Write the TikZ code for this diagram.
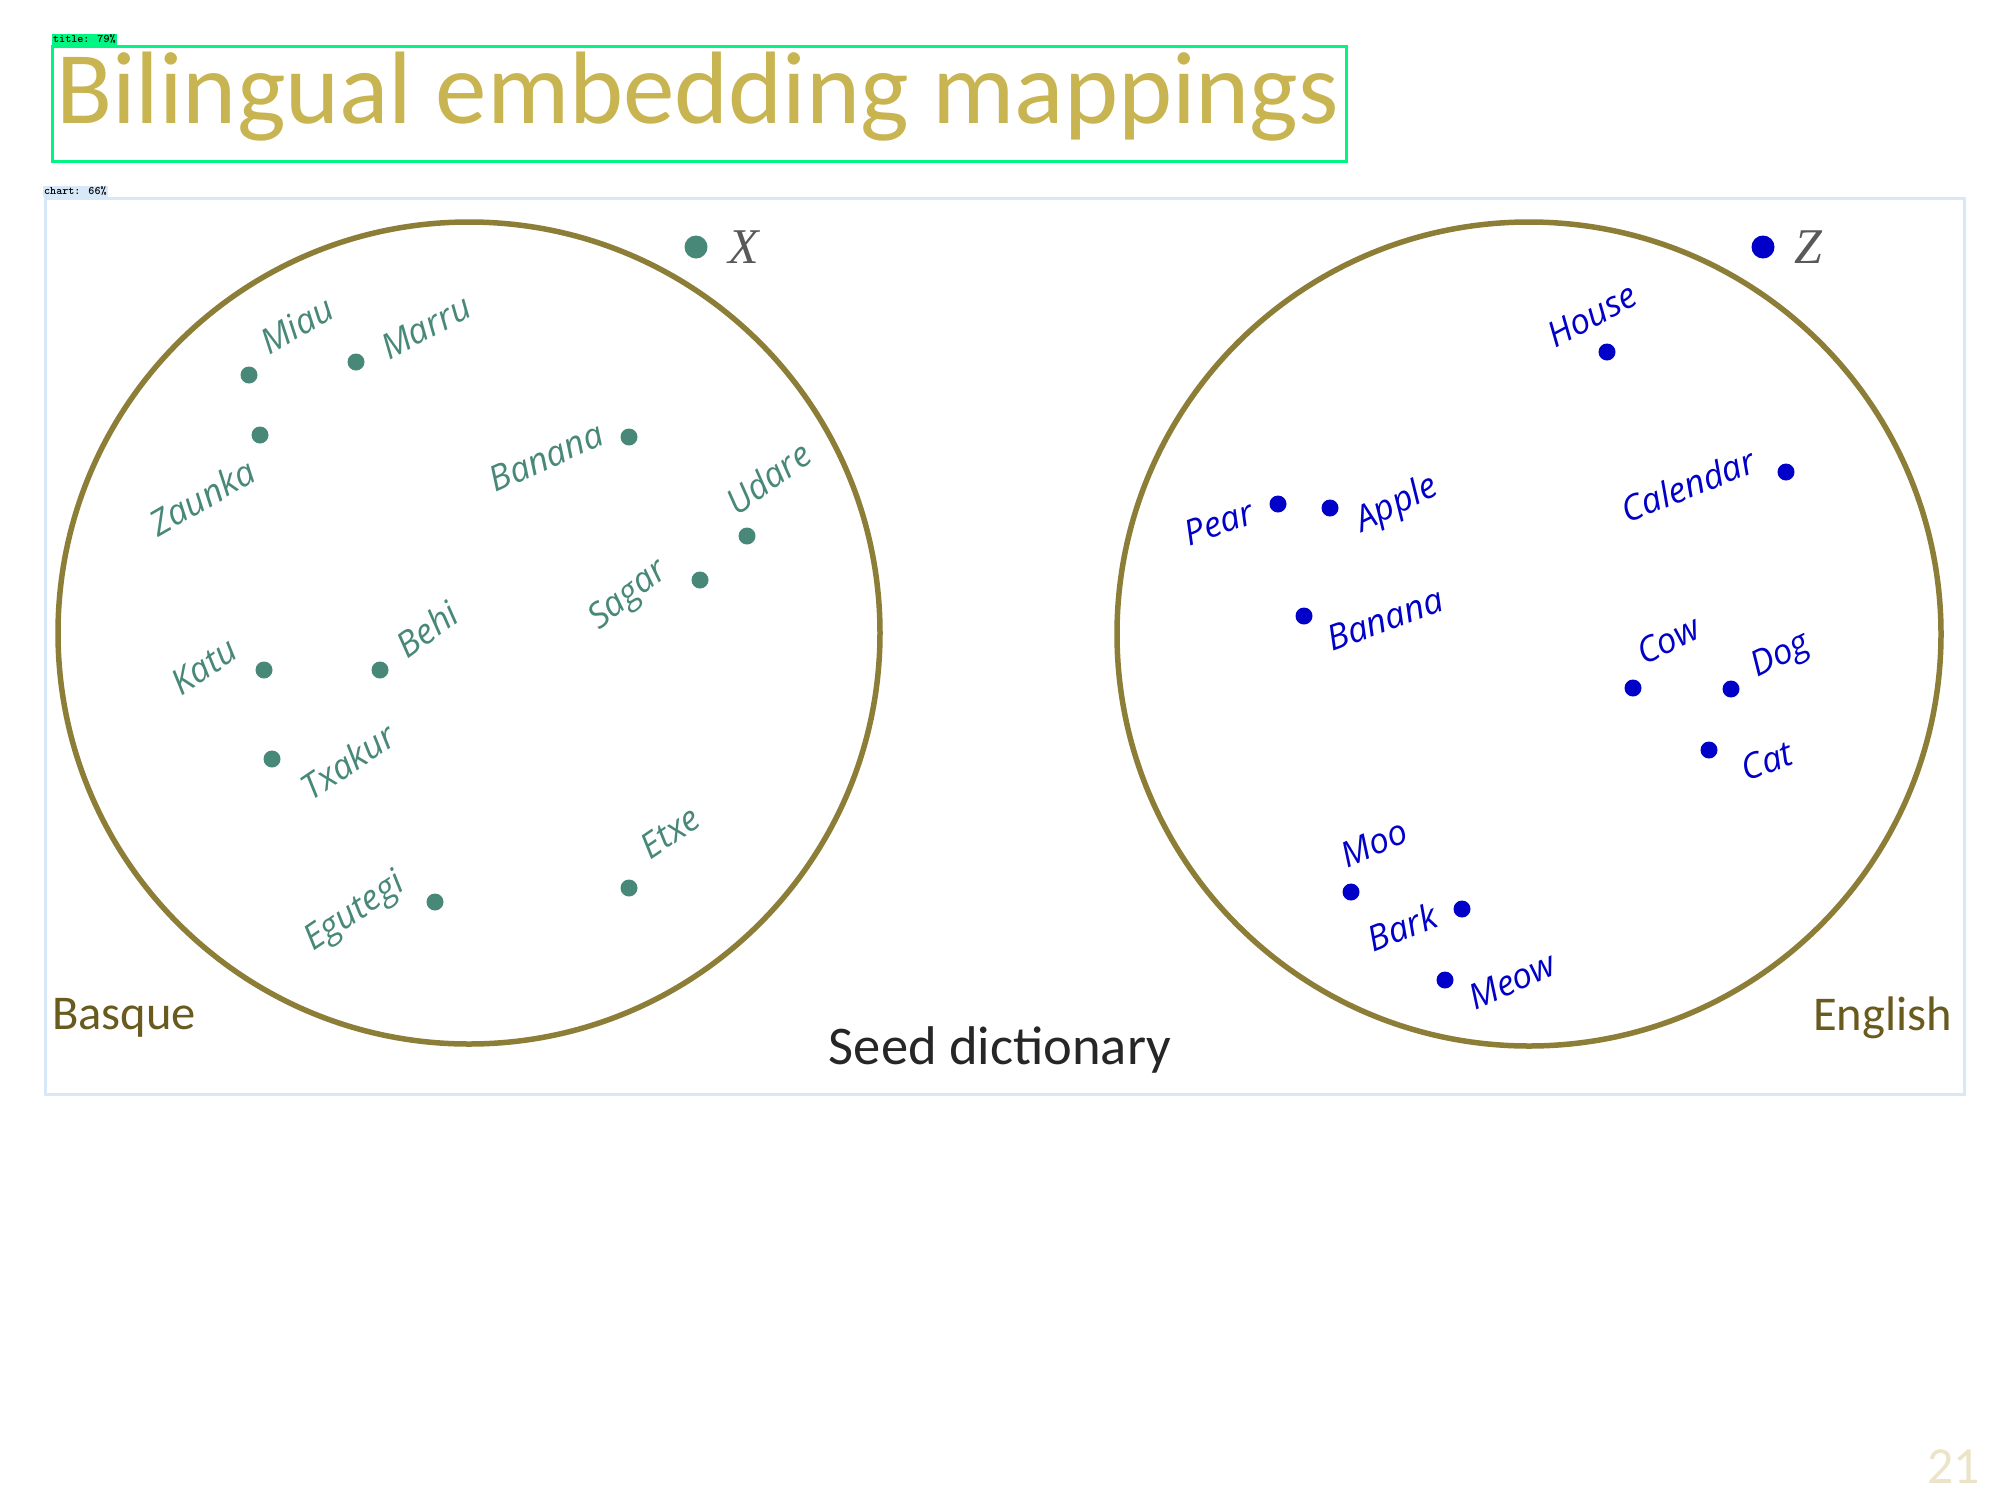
\documentclass[tikz,border=0pt]{standalone}
\usepackage{fontspec}
\setmainfont{Carlito}
\newfontfamily\wordfont{Open Sans}
\newfontfamily\varfont{Liberation Serif}
\usetikzlibrary{positioning}

\definecolor{titleolive}{RGB}{200,180,80}
\definecolor{ringolive}{RGB}{140,125,55}
\definecolor{langolive}{RGB}{105,90,30}
\definecolor{basqueteal}{RGB}{72,136,120}
\definecolor{englishblue}{RGB}{0,0,200}
\definecolor{detgreen}{RGB}{0,245,130}
\definecolor{detblue}{RGB}{215,232,248}
\definecolor{pagebeige}{RGB}{235,228,200}

\begin{document}
\begin{tikzpicture}[
  x=1pt, y=-1pt,
  ring/.style={draw=ringolive, line width=5.5pt},
  dotx/.style={circle, fill=basqueteal, inner sep=0pt, minimum size=17pt},
  dotz/.style={circle, fill=englishblue, inner sep=0pt, minimum size=17pt},
  bigdot/.style={minimum size=23pt},
  wordx/.style={font=\wordfont\itshape\fontsize{35}{38}\selectfont, text=basqueteal, inner sep=0pt},
  wordz/.style={font=\wordfont\itshape\fontsize{35}{38}\selectfont, text=englishblue, inner sep=0pt},
  var/.style={font=\varfont\itshape\fontsize{50}{52}\selectfont, text=black!65, inner sep=0pt},
  lang/.style={font=\fontsize{48.5}{50}\selectfont, text=langolive, inner sep=0pt},
  tag/.style={font=\ttfamily\bfseries\fontsize{11.5}{11.5}\selectfont, inner sep=1pt, anchor=south west}
]
\useasboundingbox[fill=white] (0,0) rectangle (2000,1500);

\draw[detgreen, line width=3pt] (52,46) rectangle (1346,161);
\node[tag, fill=detgreen] (titletag) at (52,45) {title: 79\%};
\node[font=\fontsize{103}{105}\selectfont, text=titleolive, anchor=west, inner sep=0pt] (title) at (56,97) {Bilingual embedding mappings};

\draw[detblue, line width=3pt] (45,198) rectangle (1964,1094);
\node[tag, fill=detblue] (charttag) at (43,197) {chart: 66\%};

\draw[ring] (469,633) circle (411);
\draw[ring] (1529,634) circle (412);

\node[dotx, bigdot] (xdot) at (696,247) {};
\node[var, right=21pt of xdot] (xvar) {X};

\node[dotx] (miau) at (249,375) {};
\node[wordx, rotate=30] (miaul) at (297,325) {Miau};
\node[dotx] (marru) at (356,362) {};
\node[wordx, rotate=28] (marrul) at (426,327) {Marru};
\node[dotx] (zaunka) at (260,435) {};
\node[wordx, rotate=30] (zaunkal) at (202,497) {Zaunka};
\node[dotx] (banx) at (629,437) {};
\node[wordx, rotate=24] (banxl) at (546,457) {Banana};
\node[dotx] (udare) at (747,536) {};
\node[wordx, rotate=36] (udarel) at (768,478) {Udare};
\node[dotx] (sagar) at (700,580) {};
\node[wordx, rotate=38] (sagarl) at (629,596) {Sagar};
\node[dotx] (katu) at (264,670) {};
\node[wordx, rotate=34] (katul) at (204,666) {Katu};
\node[dotx] (behi) at (380,670) {};
\node[wordx, rotate=36] (behil) at (427,629) {Behi};
\node[dotx] (txakur) at (272,759) {};
\node[wordx, rotate=34] (txakurl) at (348,761) {Txakur};
\node[dotx] (egutegi) at (435,902) {};
\node[wordx, rotate=34] (egutegil) at (355,913) {Egutegi};
\node[dotx] (etxe) at (629,888) {};
\node[wordx, rotate=34] (etxel) at (670,832) {Etxe};

\node[dotz, bigdot] (zdot) at (1763,247) {};
\node[var, right=20pt of zdot] (zvar) {Z};

\node[dotz] (house) at (1607,352) {};
\node[wordz, rotate=28] (housel) at (1592,315) {House};
\node[dotz] (pear) at (1278,504) {};
\node[wordz, rotate=20] (pearl) at (1219,523) {Pear};
\node[dotz] (apple) at (1330,508) {};
\node[wordz, rotate=26] (applel) at (1397,505) {Apple};
\node[dotz] (calendar) at (1786,472) {};
\node[wordz, rotate=22] (calendarl) at (1688,485) {Calendar};
\node[dotz] (banz) at (1304,616) {};
\node[wordz, rotate=20] (banzl) at (1385,619) {Banana};
\node[dotz] (cow) at (1633,688) {};
\node[wordz, rotate=26] (cowl) at (1668,640) {Cow};
\node[dotz] (dog) at (1731,689) {};
\node[wordz, rotate=26] (dogl) at (1781,657) {Dog};
\node[dotz] (cat) at (1709,750) {};
\node[wordz, rotate=20] (catl) at (1767,761) {Cat};
\node[dotz] (moo) at (1351,892) {};
\node[wordz, rotate=24] (mool) at (1374,843) {Moo};
\node[dotz] (bark) at (1462,909) {};
\node[wordz, rotate=22] (barkl) at (1402,927) {Bark};
\node[dotz] (meow) at (1445,980) {};
\node[wordz, rotate=24] (meowl) at (1512,981) {Meow};

\node[lang, anchor=west] (basque) at (52,1018) {Basque};
\node[lang, anchor=east] (english) at (1952,1018) {English};
\node[font=\fontsize{54.5}{56}\selectfont, text=black!85, inner sep=0pt] (seed) at (1000,1050) {Seed dictionary};

\node[font=\fontsize{52}{54}\selectfont, text=pagebeige, anchor=east, inner sep=0pt] (page) at (1980,1467) {21};
\end{tikzpicture}
\end{document}
